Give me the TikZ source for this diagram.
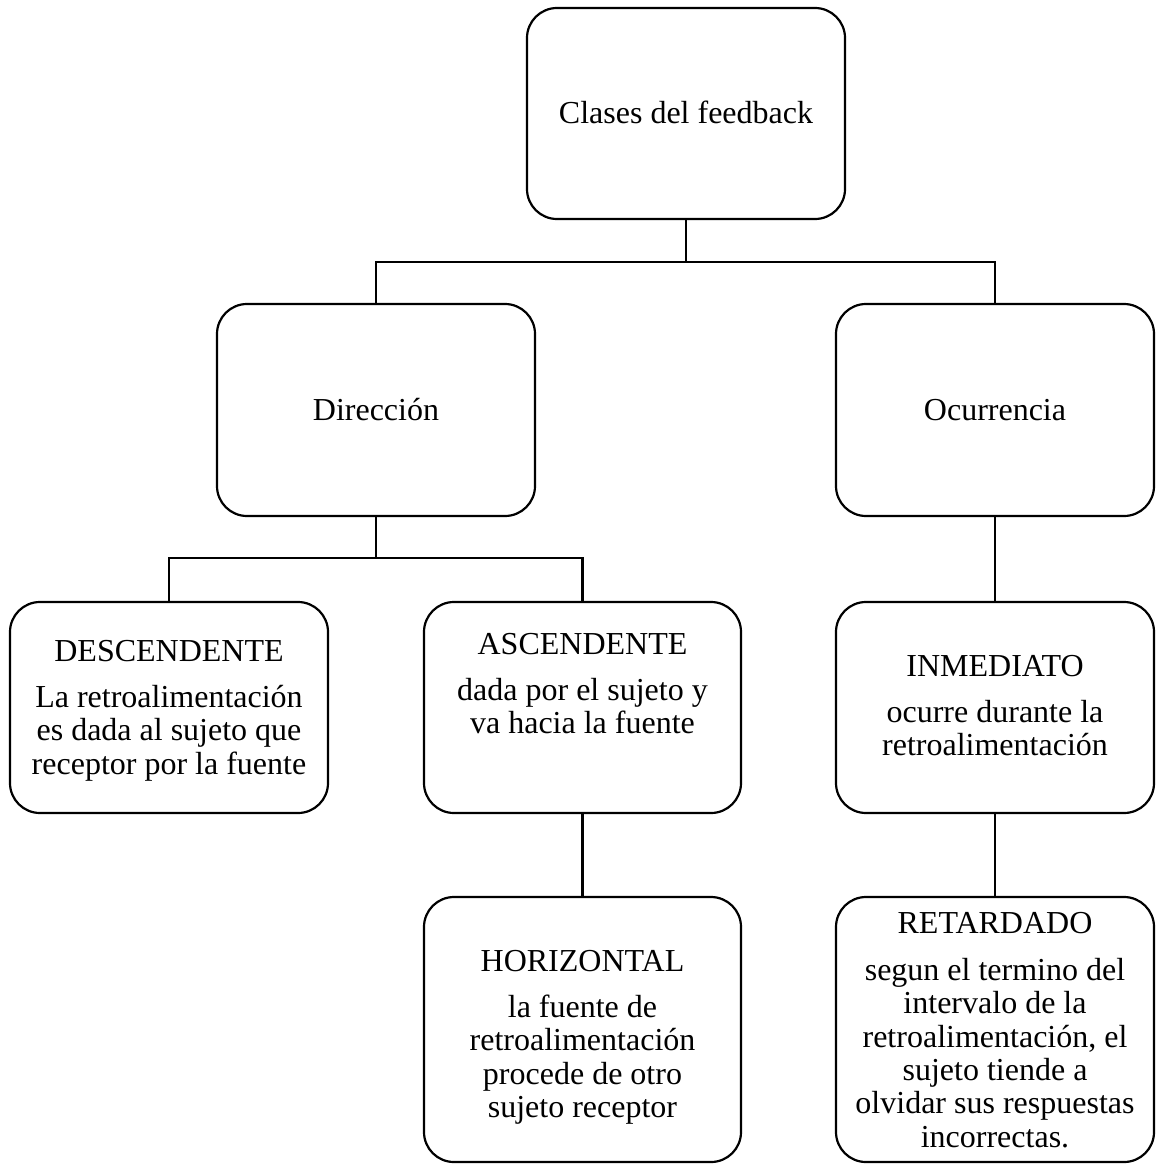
\documentclass[tikz,border=0pt]{standalone}
\usepackage{fontspec}
\setmainfont{Liberation Serif}
\begin{document}
\begin{tikzpicture}[x=1pt,y=-1pt,
  box/.style={draw, line width=2.2pt, rounded corners=30pt, inner sep=0pt, minimum width=318pt},
  conn/.style={line width=2.2pt},
  ttl/.style={anchor=base, inner sep=0pt, font={\fontsize{32pt}{33.4pt}\selectfont}},
  bdy/.style={anchor=north, inner sep=0pt, align=center, font={\fontsize{32pt}{33.4pt}\selectfont}}]
\useasboundingbox (0,0) rectangle (1156,1169);
% boxes
\node[box, minimum height=211pt] (root) at (686,113.5) {};
\node[box, minimum height=212pt] (dir) at (376,410) {};
\node[box, minimum height=212pt] (ocu) at (995,410) {};
\node[box, minimum height=211pt] (desc) at (169,707.5) {};
\node[box, minimum height=211pt, minimum width=317pt] (asc) at (582.5,707.5) {};
\node[box, minimum height=211pt] (inm) at (995,707.5) {};
\node[box, minimum height=265pt, minimum width=317pt] (hor) at (582.5,1029.5) {};
\node[box, minimum height=265pt] (ret) at (995,1029.5) {};
% texts
\node[ttl] (t-root) at (686,124) {Clases del feedback};
\node[ttl] (t-dir) at (376,420) {Dirección};
\node[ttl] (t-ocu) at (995,420) {Ocurrencia};
\node[ttl] (t-desc) at (169,661) {DESCENDENTE};
\node[bdy] (b-desc) at (169,681) {\rule{0pt}{26pt}La retroalimentación\\es dada al sujeto que\\receptor por la fuente};
\node[ttl] (t-asc) at (582.5,654) {ASCENDENTE};
\node[bdy] (b-asc) at (582.5,674) {\rule{0pt}{26pt}dada por el sujeto y\\va hacia la fuente};
\node[ttl] (t-inm) at (995,676) {INMEDIATO};
\node[bdy] (b-inm) at (995,696) {\rule{0pt}{26pt}ocurre durante la\\retroalimentación};
\node[ttl] (t-hor) at (582.5,971) {HORIZONTAL};
\node[bdy] (b-hor) at (582.5,991) {\rule{0pt}{26pt}la fuente de\\retroalimentación\\procede de otro\\sujeto receptor};
\node[ttl] (t-ret) at (995,933) {RETARDADO};
\node[bdy] (b-ret) at (995,954) {\rule{0pt}{26pt}segun el termino del\\intervalo de la\\retroalimentación, el\\sujeto tiende a\\olvidar sus respuestas\\incorrectas.};
% connectors
\coordinate (j1) at (686,262);
\coordinate (j2) at (376,558);
\draw[conn] (root.south) -- (j1);
\draw[conn] (dir.north) |- (j1) -| (ocu.north);
\draw[conn] (dir.south) -- (j2);
\draw[conn] (desc.north) |- (j2) -| (asc.north);
\draw[conn] (ocu.south) -- (inm.north);
\draw[conn] (asc.south) -- (hor.north);
\draw[conn] (inm.south) -- (ret.north);
\end{tikzpicture}
\end{document}
